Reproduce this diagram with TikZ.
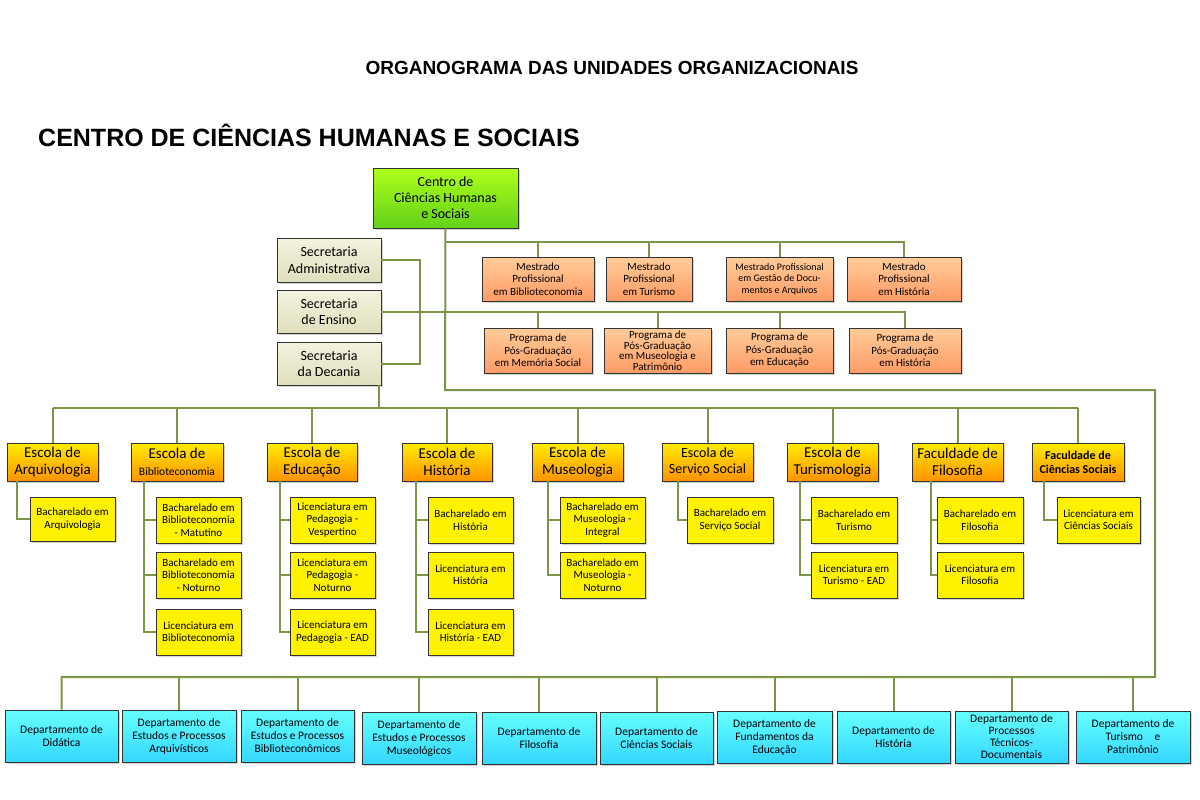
\documentclass[tikz,border=0pt]{standalone}
\usepackage{fontspec}
\setmainfont{Carlito}
\newfontfamily\arialb{Liberation Sans Bold}
\usetikzlibrary{shadows}
\definecolor{lnc}{HTML}{9BBB59}
\tikzset{
 ln/.style={draw=lnc!80!black, line width=2pt},
 base/.style={draw=black!80, line width=0.8pt, align=center, inner sep=1pt, drop shadow={shadow xshift=2pt,shadow yshift=-2pt,opacity=0.35}},
 cen/.style={base, top color=green!35!yellow!90!white, bottom color=green!60!yellow!80!black!90, font=\fontsize{14}{16}\selectfont},
 sec/.style={base, top color=gray!25!olive!10, bottom color=gray!45!olive!25, font=\fontsize{14}{16.5}\selectfont},
 posbox/.style={base, top color=orange!40!white, bottom color=orange!70!red!60!white, font=\fontsize{11}{12.5}\selectfont},
 esc/.style={base, top color=yellow!85!orange, bottom color=orange!85!yellow, font=\fontsize{15}{17}\selectfont},
 subbox/.style={base, fill=yellow, font=\fontsize{11}{12.5}\selectfont},
 dep/.style={base, top color=cyan!60!white, bottom color=cyan!80!blue!80, font=\fontsize{11.5}{13}\selectfont},
}
\newcommand{\bx}[7]{\node[#2, minimum width=#5pt, minimum height=#6pt] (#1) at (#3,#4) {#7};}
\begin{document}
\begin{tikzpicture}[x=1pt,y=-1pt]
\useasboundingbox (0,0) rectangle (1200,800);
\node[font=\arialb\fontsize{19}{22}\selectfont] (tit) at (612,68) {ORGANOGRAMA DAS UNIDADES ORGANIZACIONAIS};
\node[font=\arialb\fontsize{25}{29}\selectfont, anchor=west, inner sep=0] (sub) at (38,135) {CENTRO DE CIÊNCIAS HUMANAS E SOCIAIS};
% boxes
\bx{c}{cen}{445.5}{198}{145}{60}{Centro de\\Ciências Humanas\\e Sociais}
\bx{sa}{sec}{329}{260}{104}{44}{Secretaria\\Administrativa}
\bx{se}{sec}{329}{311.5}{104}{43}{Secretaria\\de Ensino}
\bx{sd}{sec}{329}{363.5}{104}{43}{Secretaria\\da Decania}
\bx{m1}{posbox}{538}{279}{112}{44}{Mestrado\\Profissional\\em Biblioteconomia}
\bx{m2}{posbox}{649}{279}{86}{44}{Mestrado\\Profissional\\em Turismo}
\bx{m3}{posbox,font=\fontsize{10}{11.5}\selectfont}{779.5}{279}{107}{44}{Mestrado Profissional\\em Gestão de Docu-\\mentos e Arquivos}
\bx{m4}{posbox}{904}{279}{114}{44}{Mestrado\\Profissional\\em História}
\bx{p1}{posbox}{538}{350.5}{108}{45}{Programa de\\Pós-Graduação\\em Memória Social}
\bx{p2}{posbox,font=\fontsize{11}{10.5}\selectfont}{657.5}{350.5}{107}{45}{Programa de\\Pós-Graduação\\em Museologia e\\Patrimônio}
\bx{p3}{posbox}{779.5}{350.5}{107}{45}{Programa de\\Pós-Graduação\\em Educação}
\bx{p4}{posbox}{905}{350.5}{112}{45}{Programa de\\Pós-Graduação\\em História}
% escolas
\bx{e1}{esc}{52.5}{462}{91}{38}{Escola de\\Arquivologia}
\bx{e2}{esc}{177}{462}{92}{38}{Escola de\\{\fontsize{11.5}{13}\selectfont Biblioteconomia}}
\bx{e3}{esc}{312}{462}{90}{38}{Escola de\\Educação}
\bx{e4}{esc}{447}{462}{90}{38}{Escola de\\História}
\bx{e5}{esc}{577.5}{462}{91}{38}{Escola de\\Museologia}
\bx{e6}{esc,font=\fontsize{14}{16.5}\selectfont}{707.5}{462}{91}{38}{Escola de\\Serviço Social}
\bx{e7}{esc}{832.5}{462}{91}{38}{Escola de\\Turismologia}
\bx{e8}{esc}{957.5}{462}{91}{38}{Faculdade de\\Filosofia}
\bx{e9}{esc,font=\bfseries\fontsize{12}{14}\selectfont}{1078}{462}{92}{38}{Faculdade de\\Ciências Sociais}
% subs
\bx{a1}{subbox}{72.5}{519}{85}{44}{Bacharelado em\\Arquivologia}
\bx{b1}{subbox}{198.5}{520}{85}{46}{Bacharelado em\\Biblioteconomia\\- Matutino}
\bx{b2}{subbox}{198.5}{575}{85}{46}{Bacharelado em\\Biblioteconomia\\- Noturno}
\bx{b3}{subbox}{198.5}{632}{85}{46}{Licenciatura em\\Biblioteconomia}
\bx{d1}{subbox}{332.5}{520}{85}{46}{Licenciatura em\\Pedagogia -\\Vespertino}
\bx{d2}{subbox}{332.5}{575}{85}{46}{Licenciatura em\\Pedagogia -\\Noturno}
\bx{d3}{subbox}{332.5}{632}{85}{46}{Licenciatura em\\Pedagogia - EAD}
\bx{h1}{subbox}{470.5}{520}{85}{46}{Bacharelado em\\História}
\bx{h2}{subbox}{470.5}{575}{85}{46}{Licenciatura em\\História}
\bx{h3}{subbox}{470.5}{632}{85}{46}{Licenciatura em\\História - EAD}
\bx{u1}{subbox}{602.5}{520}{85}{46}{Bacharelado em\\Museologia -\\Integral}
\bx{u2}{subbox}{602.5}{575}{85}{46}{Bacharelado em\\Museologia -\\Noturno}
\bx{s1}{subbox}{730}{520}{86}{46}{Bacharelado em\\Serviço Social}
\bx{t1}{subbox}{854}{520}{86}{46}{Bacharelado em\\Turismo}
\bx{t2}{subbox}{854}{575}{86}{46}{Licenciatura em\\Turismo - EAD}
\bx{f1}{subbox}{980}{520}{86}{46}{Bacharelado em\\Filosofia}
\bx{f2}{subbox}{980}{575}{86}{46}{Licenciatura em\\Filosofia}
\bx{g1}{subbox}{1098.5}{520}{83}{46}{Licenciatura em\\Ciências Sociais}
% departamentos
\bx{q1}{dep}{61.5}{736}{113}{52}{Departamento de\\Didática}
\bx{q2}{dep}{179}{736}{114}{52}{Departamento de\\Estudos e Processos\\Arquivísticos}
\bx{q3}{dep}{297.5}{736}{113}{52}{Departamento de\\Estudos e Processos\\Biblioteconômicos}
\bx{q4}{dep}{419}{738}{114}{52}{Departamento de\\Estudos e Processos\\Museológicos}
\bx{q5}{dep}{539}{738}{114}{52}{Departamento de\\Filosofia}
\bx{q6}{dep}{656.5}{738}{113}{52}{Departamento de\\Ciências Sociais}
\bx{q7}{dep}{774.5}{737}{115}{52}{Departamento de\\Fundamentos da\\Educação}
\bx{q8}{dep}{893.5}{737}{113}{52}{Departamento de\\História}
\bx{q9}{dep,font=\fontsize{11.5}{12}\selectfont}{1011.5}{737}{113}{52}{Departamento de\\Processos\\Técnicos-\\Documentais}
\bx{q10}{dep}{1133}{737}{114}{52}{Departamento de\\Turismo\quad e\\Patrimônio}
% coordinates
\coordinate (bm) at (445,242);
\coordinate (jn) at (420,262);
\coordinate (be) at (379,408);
\coordinate (bc) at (445,390);
\coordinate (rc) at (1155,390);
\coordinate (bd) at (1155,677);
% connectors
\draw[ln] (c.south) -- (bc) -- (rc) -- (bd) -- (bd -| q1.north) -- (q1.north);
\foreach \q in {q2,q3,q4,q5,q6,q7,q8,q9,q10} \draw[ln] (bd -| \q.north) -- (\q.north);
\draw[ln] (bm) -- (bm -| m4.north) -- (m4.north);
\foreach \m in {m1,m2,m3} \draw[ln] (bm -| \m.north) -- (\m.north);
\draw[ln] (sa.east) -| (jn) |- (sd.east);
\draw[ln] (se.east) -- (se.east -| p4.north) -- (p4.north);
\foreach \p in {p1,p2,p3} \draw[ln] (se.east -| \p.north) -- (\p.north);
\draw[ln] (sd.south -| be) -- (be);
\draw[ln] (be -| e1.north) -- (be -| e9.north);
\foreach \e in {e1,e2,e3,e4,e5,e6,e7,e8,e9} \draw[ln] (be -| \e.north) -- (\e.north);
\draw[ln] ([xshift=10pt]e1.south west) |- (a1.west);
\draw[ln] ([xshift=13pt]e2.south west) |- (b3.west);
\foreach \s in {b1,b2} \draw[ln] ([xshift=13pt]e2.south west |- \s.west) -- (\s.west);
\draw[ln] ([xshift=13pt]e3.south west) |- (d3.west);
\foreach \s in {d1,d2} \draw[ln] ([xshift=13pt]e3.south west |- \s.west) -- (\s.west);
\draw[ln] ([xshift=14pt]e4.south west) |- (h3.west);
\foreach \s in {h1,h2} \draw[ln] ([xshift=14pt]e4.south west |- \s.west) -- (\s.west);
\draw[ln] ([xshift=16pt]e5.south west) |- (u2.west);
\draw[ln] ([xshift=16pt]e5.south west |- u1.west) -- (u1.west);
\draw[ln] ([xshift=16pt]e6.south west) |- (s1.west);
\draw[ln] ([xshift=13pt]e7.south west) |- (t2.west);
\draw[ln] ([xshift=13pt]e7.south west |- t1.west) -- (t1.west);
\draw[ln] ([xshift=19pt]e8.south west) |- (f2.west);
\draw[ln] ([xshift=19pt]e8.south west |- f1.west) -- (f1.west);
\draw[ln] ([xshift=12pt]e9.south west) |- (g1.west);
\end{tikzpicture}
\end{document}
